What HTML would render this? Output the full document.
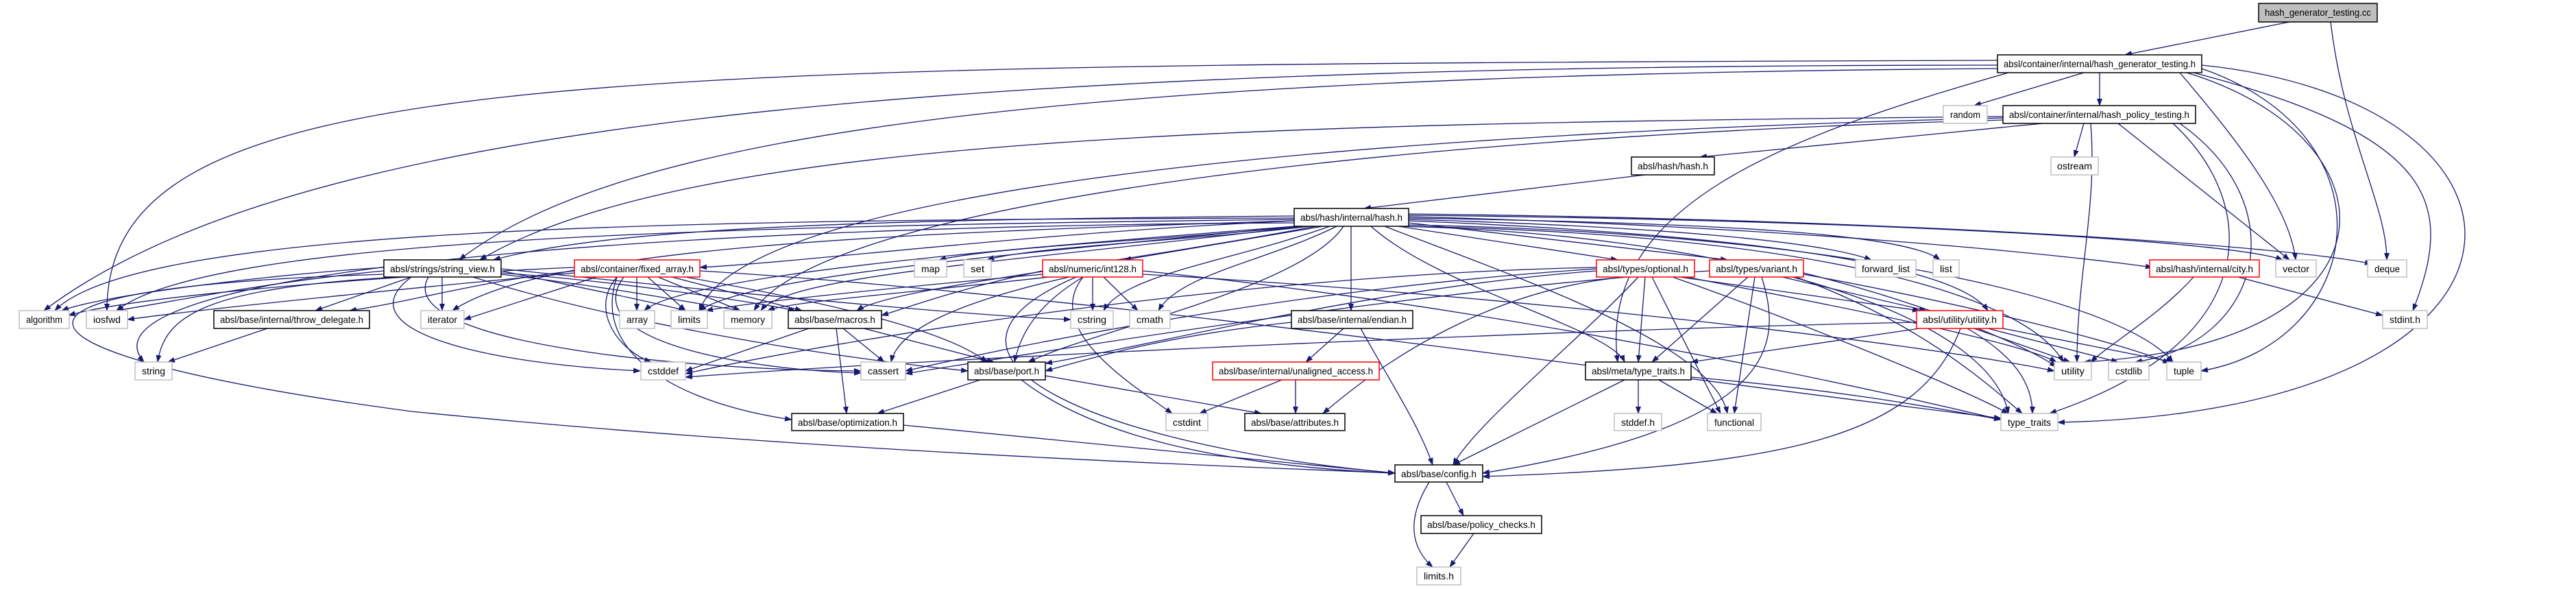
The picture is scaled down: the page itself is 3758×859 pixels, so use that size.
<!DOCTYPE html>
<html><head><meta charset="utf-8"><style>
html,body{margin:0;padding:0;background:#fff;}
svg{display:block;}
text{font-family:"Liberation Sans",sans-serif;font-size:14px;fill:#000;}
.e{fill:none;stroke:#191970;stroke-width:1.3;marker-end:url(#a);}
.b{fill:#fff;stroke:#000;stroke-width:1.5;}
.r{fill:#fff;stroke:#f00;stroke-width:1.5;}
.g{fill:#fff;stroke:#bfbfbf;stroke-width:1.5;}
</style></head><body>
<svg width="3758" height="859" viewBox="0 0 3758 859" xmlns="http://www.w3.org/2000/svg">
<defs><marker id="a" markerUnits="userSpaceOnUse" markerWidth="11" markerHeight="8" refX="10" refY="4" orient="auto"><path d="M0,0 L11,4 L0,8 z" fill="#191970"/></marker></defs>
<g>
<path class="e" d="M3340 32 L3100 80"/>
<path class="e" d="M3400 32 C3420 200 3482 300 3482 379"/>
<path class="e" d="M3040 106 L2880 154"/>
<path class="e" d="M3063 106 L3063 154"/>
<path class="e" d="M2914 95 C1200 95 400 200 64 453"/>
<path class="e" d="M2914 88 C800 95 156 100 156 453"/>
<path class="e" d="M2914 100 C1500 110 900 200 670 379"/>
<path class="e" d="M2930 106 C2600 200 2330 300 2360 528"/>
<path class="e" d="M3180 106 C3260 200 3340 300 3349 379"/>
<path class="e" d="M3200 106 C3560 200 3580 300 3520 453"/>
<path class="e" d="M3212 100 C3500 200 3450 500 3211 541"/>
<path class="e" d="M3212 95 C3750 150 3760 600 3002 616"/>
<path class="e" d="M3190 106 C3500 200 3520 500 3040 528"/>
<path class="e" d="M2980 180 L2480 229"/>
<path class="e" d="M3040 180 L3026 229"/>
<path class="e" d="M3090 180 L3340 379"/>
<path class="e" d="M3050 180 C3060 300 3030 400 3030 528"/>
<path class="e" d="M3180 180 C3350 300 3300 500 3115 528"/>
<path class="e" d="M3170 180 C3300 300 3300 500 2990 603"/>
<path class="e" d="M2922 170 C1800 180 1000 200 700 379"/>
<path class="e" d="M2922 175 C2000 200 1200 300 1100 453"/>
<path class="e" d="M2922 172 C2200 190 1100 250 1020 453"/>
<path class="e" d="M2400 255 L1990 304"/>
<path class="e" d="M1888 315 C1300 320 900 330 720 379"/>
<path class="e" d="M1888 318 C1000 320 200 330 80 453"/>
<path class="e" d="M1888 320 C1000 330 300 350 170 453"/>
<path class="e" d="M1888 322 C1300 340 800 360 660 453"/>
<path class="e" d="M1888 322 C1500 340 1200 380 1021 390"/>
<path class="e" d="M1900 330 C1700 350 1450 360 1370 379"/>
<path class="e" d="M1910 330 C1750 350 1500 360 1440 379"/>
<path class="e" d="M1930 330 L1640 379"/>
<path class="e" d="M1890 330 C1500 360 1000 400 940 453"/>
<path class="e" d="M1890 330 C1500 370 1100 400 1020 453"/>
<path class="e" d="M1900 330 C1500 380 1150 400 1110 453"/>
<path class="e" d="M1920 330 C1600 390 1300 420 1250 453"/>
<path class="e" d="M1940 330 C1800 380 1640 400 1610 453"/>
<path class="e" d="M1950 330 C1850 380 1720 400 1690 453"/>
<path class="e" d="M1971 330 L1971 453"/>
<path class="e" d="M1960 330 C1900 420 1600 480 1500 528"/>
<path class="e" d="M2000 330 C2100 420 2350 480 2370 528"/>
<path class="e" d="M2040 330 L2360 379"/>
<path class="e" d="M2055 325 L2520 379"/>
<path class="e" d="M2055 320 C2400 330 2650 350 2730 379"/>
<path class="e" d="M2055 318 C2500 325 2780 340 2830 379"/>
<path class="e" d="M2055 316 C2600 330 3000 370 3140 390"/>
<path class="e" d="M2055 314 C2700 320 3250 350 3330 379"/>
<path class="e" d="M2055 312 C2800 320 3350 360 3460 385"/>
<path class="e" d="M2055 322 C2500 340 2850 380 2900 453"/>
<path class="e" d="M2055 330 C2600 340 2950 420 3010 528"/>
<path class="e" d="M2055 328 C2700 340 3100 440 3170 528"/>
<path class="e" d="M2040 330 C2500 340 2900 450 2930 603"/>
<path class="e" d="M2020 330 C2200 400 2500 500 2520 603"/>
<path class="e" d="M1888 325 C900 330 100 400 210 528"/>
<path class="e" d="M560 390 C400 400 150 430 90 453"/>
<path class="e" d="M560 395 C400 410 250 440 170 453"/>
<path class="e" d="M600 404 L460 453"/>
<path class="e" d="M645 404 L645 453"/>
<path class="e" d="M580 404 C300 420 240 460 230 528"/>
<path class="e" d="M600 404 C500 480 700 530 934 541"/>
<path class="e" d="M625 404 C570 500 1000 540 1256 541"/>
<path class="e" d="M731 395 C850 420 950 440 1000 453"/>
<path class="e" d="M731 392 C1000 420 1400 460 1562 466"/>
<path class="e" d="M690 404 C900 470 1200 520 1412 541"/>
<path class="e" d="M560 400 C-100 420 0 520 600 600 C1200 660 1800 680 2035 690"/>
<path class="e" d="M731 400 C900 420 1000 440 1080 453"/>
<path class="e" d="M731 398 C900 410 1100 440 1160 453"/>
<path class="e" d="M390 479 L245 528"/>
<path class="e" d="M929 404 L929 453"/>
<path class="e" d="M945 404 L1000 453"/>
<path class="e" d="M960 404 L1080 453"/>
<path class="e" d="M980 404 L1170 453"/>
<path class="e" d="M900 404 C860 450 900 510 950 528"/>
<path class="e" d="M910 404 C840 500 1100 540 1256 544"/>
<path class="e" d="M1000 404 C1200 440 1380 480 1440 528"/>
<path class="e" d="M900 404 C860 520 1000 590 1155 612"/>
<path class="e" d="M838 390 C600 400 200 430 100 460"/>
<path class="e" d="M870 404 L677 466"/>
<path class="e" d="M838 398 C600 420 300 450 186 466"/>
<path class="e" d="M838 395 C700 410 600 440 510 453"/>
<path class="e" d="M1021 395 C1600 430 2500 560 2919 610"/>
<path class="e" d="M1594 404 L1594 453"/>
<path class="e" d="M1610 404 L1660 453"/>
<path class="e" d="M1560 404 C1400 440 1310 480 1300 528"/>
<path class="e" d="M1580 404 C1520 440 1490 480 1480 528"/>
<path class="e" d="M1521 395 C1400 420 1320 450 1286 460"/>
<path class="e" d="M1580 404 C1520 480 1650 560 1710 603"/>
<path class="e" d="M1570 404 C1300 520 1600 650 2035 690"/>
<path class="e" d="M1521 400 C1300 420 1100 440 1030 453"/>
<path class="e" d="M1530 404 C1300 430 1150 440 1120 453"/>
<path class="e" d="M1667 395 C2200 450 2700 560 2919 612"/>
<path class="e" d="M1667 400 C2200 430 2800 500 2997 541"/>
<path class="e" d="M1180 479 L1000 541"/>
<path class="e" d="M1230 479 L1290 528"/>
<path class="e" d="M1260 479 L1450 528"/>
<path class="e" d="M1220 479 L1235 603"/>
<path class="e" d="M1430 554 L1280 603"/>
<path class="e" d="M1525 548 L1840 603"/>
<path class="e" d="M1490 554 C1600 640 1800 680 2035 690"/>
<path class="e" d="M1318 620 L2035 690"/>
<path class="e" d="M1960 479 L1905 528"/>
<path class="e" d="M1985 479 C2030 560 2070 620 2090 678"/>
<path class="e" d="M1884 470 C1700 490 1600 520 1525 541"/>
<path class="e" d="M1870 554 L1750 603"/>
<path class="e" d="M1890 554 L1890 603"/>
<path class="e" d="M2400 404 L2390 528"/>
<path class="e" d="M2410 404 L2510 603"/>
<path class="e" d="M2390 404 C2300 500 2150 620 2120 678"/>
<path class="e" d="M2370 404 C2200 420 2050 500 1930 603"/>
<path class="e" d="M2450 404 L2800 453"/>
<path class="e" d="M2460 404 C2700 450 2950 500 3000 528"/>
<path class="e" d="M2440 404 C2600 460 2850 560 2930 603"/>
<path class="e" d="M2329 395 C2000 420 1700 500 1525 530"/>
<path class="e" d="M2329 392 C1900 420 1500 500 1321 541"/>
<path class="e" d="M2329 390 C1800 400 1200 500 1000 545"/>
<path class="e" d="M2550 404 L2410 528"/>
<path class="e" d="M2560 404 L2530 603"/>
<path class="e" d="M2570 404 C2600 500 2600 620 2163 690"/>
<path class="e" d="M2600 404 L2810 453"/>
<path class="e" d="M2631 398 C2800 440 2950 500 3000 535"/>
<path class="e" d="M2631 400 C2850 440 3100 500 3165 530"/>
<path class="e" d="M2620 404 C2800 470 2900 560 2950 603"/>
<path class="e" d="M2494 395 C2100 420 1600 500 1321 545"/>
<path class="e" d="M2800 479 L2467 528"/>
<path class="e" d="M2860 479 C2800 640 2600 680 2163 695"/>
<path class="e" d="M2880 479 L3020 528"/>
<path class="e" d="M2900 479 L3090 528"/>
<path class="e" d="M2922 479 L3170 528"/>
<path class="e" d="M2870 479 C2940 520 2965 560 2965 603"/>
<path class="e" d="M2796 470 C2300 480 1400 520 1000 550"/>
<path class="e" d="M2390 554 L2390 603"/>
<path class="e" d="M2420 554 L2505 603"/>
<path class="e" d="M2370 554 L2120 678"/>
<path class="e" d="M2467 550 C2700 570 2850 600 2919 612"/>
<path class="e" d="M3200 404 C3150 460 3080 500 3050 528"/>
<path class="e" d="M3265 404 L3476 460"/>
<path class="e" d="M2110 703 L2135 752"/>
<path class="e" d="M2085 703 C2050 760 2060 800 2090 827"/>
<path class="e" d="M2150 778 L2115 827"/>
</g>
<g>
<rect x="3295" y="5" width="173" height="27" fill="#bfbfbf" stroke="#000" stroke-width="1.5"/>
<text x="3381.5" y="23" text-anchor="middle" textLength="155" lengthAdjust="spacingAndGlyphs">hash_generator_testing.cc</text>

<rect class="b" x="2914" y="80" width="298" height="26"/><text x="3063" y="98" text-anchor="middle" textLength="280" lengthAdjust="spacingAndGlyphs">absl/container/internal/hash_generator_testing.h</text>
<rect class="g" x="2835" y="154" width="64" height="26"/><text x="2867" y="172" text-anchor="middle" textLength="44" lengthAdjust="spacingAndGlyphs">random</text>
<rect class="b" x="2922" y="154" width="281" height="26"/><text x="3062.5" y="172" text-anchor="middle" textLength="263" lengthAdjust="spacingAndGlyphs">absl/container/internal/hash_policy_testing.h</text>
<rect class="b" x="2380" y="229" width="121" height="26"/><text x="2440.5" y="247" text-anchor="middle" textLength="103" lengthAdjust="spacingAndGlyphs">absl/hash/hash.h</text>
<rect class="g" x="2992" y="229" width="69" height="26"/><text x="3026.5" y="247" text-anchor="middle" textLength="51" lengthAdjust="spacingAndGlyphs">ostream</text>
<rect class="b" x="1888" y="304" width="167" height="26"/><text x="1971.5" y="322" text-anchor="middle" textLength="149" lengthAdjust="spacingAndGlyphs">absl/hash/internal/hash.h</text>

<rect class="b" x="560" y="379" width="171" height="25"/><text x="645.5" y="397" text-anchor="middle" textLength="153" lengthAdjust="spacingAndGlyphs">absl/strings/string_view.h</text>
<rect class="r" x="838" y="379" width="183" height="25"/><text x="929.5" y="397" text-anchor="middle" textLength="165" lengthAdjust="spacingAndGlyphs">absl/container/fixed_array.h</text>
<rect class="g" x="1334" y="379" width="47" height="25"/><text x="1357.5" y="397" text-anchor="middle" textLength="27" lengthAdjust="spacingAndGlyphs">map</text>
<rect class="g" x="1406" y="379" width="40" height="25"/><text x="1426" y="397" text-anchor="middle" textLength="20" lengthAdjust="spacingAndGlyphs">set</text>
<rect class="r" x="1521" y="379" width="146" height="25"/><text x="1594" y="397" text-anchor="middle" textLength="128" lengthAdjust="spacingAndGlyphs">absl/numeric/int128.h</text>
<rect class="r" x="2329" y="379" width="143" height="25"/><text x="2400.5" y="397" text-anchor="middle" textLength="125" lengthAdjust="spacingAndGlyphs">absl/types/optional.h</text>
<rect class="r" x="2494" y="379" width="137" height="25"/><text x="2562.5" y="397" text-anchor="middle" textLength="119" lengthAdjust="spacingAndGlyphs">absl/types/variant.h</text>
<rect class="g" x="2707" y="379" width="88" height="25"/><text x="2751" y="397" text-anchor="middle" textLength="70" lengthAdjust="spacingAndGlyphs">forward_list</text>
<rect class="g" x="2820" y="379" width="38" height="25"/><text x="2839" y="397" text-anchor="middle" textLength="18" lengthAdjust="spacingAndGlyphs">list</text>
<rect class="r" x="3136" y="379" width="160" height="25"/><text x="3216" y="397" text-anchor="middle" textLength="142" lengthAdjust="spacingAndGlyphs">absl/hash/internal/city.h</text>
<rect class="g" x="3320" y="379" width="59" height="25"/><text x="3349.5" y="397" text-anchor="middle" textLength="39" lengthAdjust="spacingAndGlyphs">vector</text>
<rect class="g" x="3454" y="379" width="57" height="25"/><text x="3482.5" y="397" text-anchor="middle" textLength="37" lengthAdjust="spacingAndGlyphs">deque</text>

<rect class="g" x="28" y="453" width="73" height="26"/><text x="64.5" y="471" text-anchor="middle" textLength="53" lengthAdjust="spacingAndGlyphs">algorithm</text>
<rect class="g" x="126" y="453" width="60" height="26"/><text x="156" y="471" text-anchor="middle" textLength="40" lengthAdjust="spacingAndGlyphs">iosfwd</text>
<rect class="b" x="312" y="453" width="227" height="26"/><text x="425.5" y="471" text-anchor="middle" textLength="209" lengthAdjust="spacingAndGlyphs">absl/base/internal/throw_delegate.h</text>
<rect class="g" x="614" y="453" width="63" height="26"/><text x="645.5" y="471" text-anchor="middle" textLength="43" lengthAdjust="spacingAndGlyphs">iterator</text>
<rect class="g" x="904" y="453" width="51" height="26"/><text x="929.5" y="471" text-anchor="middle" textLength="31" lengthAdjust="spacingAndGlyphs">array</text>
<rect class="g" x="979" y="453" width="53" height="26"/><text x="1005.5" y="471" text-anchor="middle" textLength="33" lengthAdjust="spacingAndGlyphs">limits</text>
<rect class="g" x="1056" y="453" width="70" height="26"/><text x="1091" y="471" text-anchor="middle" textLength="50" lengthAdjust="spacingAndGlyphs">memory</text>
<rect class="b" x="1150" y="453" width="136" height="26"/><text x="1218" y="471" text-anchor="middle" textLength="118" lengthAdjust="spacingAndGlyphs">absl/base/macros.h</text>
<rect class="g" x="1562" y="453" width="62" height="26"/><text x="1593" y="471" text-anchor="middle" textLength="42" lengthAdjust="spacingAndGlyphs">cstring</text>
<rect class="g" x="1648" y="453" width="59" height="26"/><text x="1677.5" y="471" text-anchor="middle" textLength="39" lengthAdjust="spacingAndGlyphs">cmath</text>
<rect class="b" x="1884" y="453" width="177" height="26"/><text x="1972.5" y="471" text-anchor="middle" textLength="159" lengthAdjust="spacingAndGlyphs">absl/base/internal/endian.h</text>
<rect class="r" x="2796" y="453" width="126" height="26"/><text x="2859" y="471" text-anchor="middle" textLength="108" lengthAdjust="spacingAndGlyphs">absl/utility/utility.h</text>
<rect class="g" x="3476" y="453" width="65" height="26"/><text x="3508.5" y="471" text-anchor="middle" textLength="45" lengthAdjust="spacingAndGlyphs">stdint.h</text>

<rect class="g" x="197" y="528" width="54" height="26"/><text x="224" y="546" text-anchor="middle" textLength="34" lengthAdjust="spacingAndGlyphs">string</text>
<rect class="g" x="935" y="528" width="65" height="26"/><text x="967.5" y="546" text-anchor="middle" textLength="45" lengthAdjust="spacingAndGlyphs">cstddef</text>
<rect class="g" x="1256" y="528" width="65" height="26"/><text x="1288.5" y="546" text-anchor="middle" textLength="45" lengthAdjust="spacingAndGlyphs">cassert</text>
<rect class="b" x="1412" y="528" width="113" height="26"/><text x="1468.5" y="546" text-anchor="middle" textLength="95" lengthAdjust="spacingAndGlyphs">absl/base/port.h</text>
<rect class="r" x="1769" y="528" width="243" height="26"/><text x="1890.5" y="546" text-anchor="middle" textLength="225" lengthAdjust="spacingAndGlyphs">absl/base/internal/unaligned_access.h</text>
<rect class="b" x="2313" y="528" width="154" height="26"/><text x="2390" y="546" text-anchor="middle" textLength="136" lengthAdjust="spacingAndGlyphs">absl/meta/type_traits.h</text>
<rect class="g" x="2997" y="528" width="54" height="26"/><text x="3024" y="546" text-anchor="middle" textLength="34" lengthAdjust="spacingAndGlyphs">utility</text>
<rect class="g" x="3076" y="528" width="59" height="26"/><text x="3105.5" y="546" text-anchor="middle" textLength="39" lengthAdjust="spacingAndGlyphs">cstdlib</text>
<rect class="g" x="3161" y="528" width="50" height="26"/><text x="3186" y="546" text-anchor="middle" textLength="30" lengthAdjust="spacingAndGlyphs">tuple</text>

<rect class="b" x="1155" y="603" width="163" height="25"/><text x="1236.5" y="621" text-anchor="middle" textLength="145" lengthAdjust="spacingAndGlyphs">absl/base/optimization.h</text>
<rect class="g" x="1701" y="603" width="61" height="25"/><text x="1731.5" y="621" text-anchor="middle" textLength="41" lengthAdjust="spacingAndGlyphs">cstdint</text>
<rect class="b" x="1816" y="603" width="146" height="25"/><text x="1889" y="621" text-anchor="middle" textLength="128" lengthAdjust="spacingAndGlyphs">absl/base/attributes.h</text>
<rect class="g" x="2355" y="603" width="69" height="25"/><text x="2389.5" y="621" text-anchor="middle" textLength="49" lengthAdjust="spacingAndGlyphs">stddef.h</text>
<rect class="g" x="2491" y="603" width="78" height="25"/><text x="2530" y="621" text-anchor="middle" textLength="58" lengthAdjust="spacingAndGlyphs">functional</text>
<rect class="g" x="2919" y="603" width="83" height="25"/><text x="2960.5" y="621" text-anchor="middle" textLength="63" lengthAdjust="spacingAndGlyphs">type_traits</text>

<rect class="b" x="2035" y="678" width="128" height="25"/><text x="2099" y="696" text-anchor="middle" textLength="110" lengthAdjust="spacingAndGlyphs">absl/base/config.h</text>
<rect class="b" x="2073" y="752" width="176" height="26"/><text x="2161" y="770" text-anchor="middle" textLength="158" lengthAdjust="spacingAndGlyphs">absl/base/policy_checks.h</text>
<rect class="g" x="2067" y="827" width="64" height="26"/><text x="2099" y="845" text-anchor="middle" textLength="44" lengthAdjust="spacingAndGlyphs">limits.h</text>
</g>
</svg>
</body></html>
